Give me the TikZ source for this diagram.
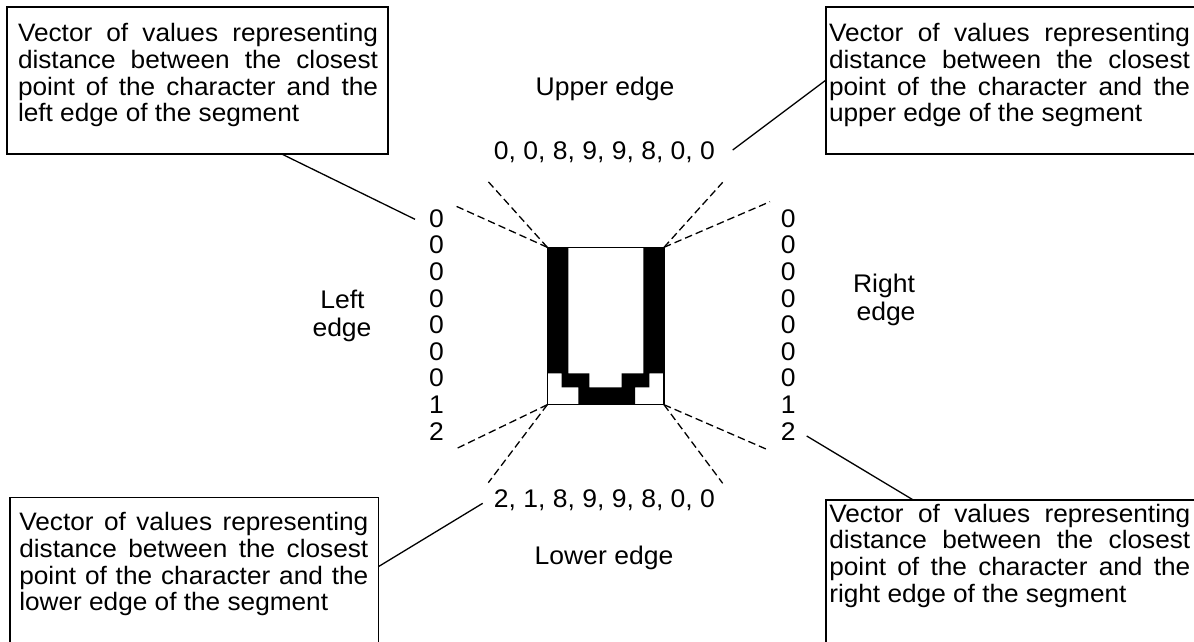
\documentclass[tikz,border=0pt]{standalone}
\usepackage{fontspec}
\setmainfont{Liberation Sans}[FakeStretch=1.04]
\usetikzlibrary{calc}
\tolerance=9999
\hyphenpenalty=10000
\exhyphenpenalty=10000
\begin{document}
\begin{tikzpicture}[x=1pt,y=-1pt,
  every node/.style={inner sep=0pt, outer sep=0pt, font=\fontsize{25.5}{27.6}\selectfont},
  callout/.style={draw, line width=1.4pt, anchor=north west},
  note/.style={anchor=base west, align=justify, font=\fontsize{25.2}{26.67}\selectfont},
  lbl/.style={anchor=base},
  leader/.style={line width=1.3pt},
  guide/.style={line width=1.3pt, dash pattern=on 7.5pt off 4pt},
  ink/.style={fill=black}]

\useasboundingbox (0,0) rectangle (1194,641);
\clip (0,0) rectangle (1194,641);
\fill[white] (0,0) rectangle (1194,641);

% explanatory boxes (the outer ones run past the page edge)
\node[callout, minimum width=381, minimum height=147] (boxTL) at (7,7) {};
\node[callout, minimum width=374, minimum height=147] (boxTR) at (826,7) {};
\node[callout, minimum width=368.3, minimum height=163] (boxBL) at (10,497.3) {};
\node[callout, minimum width=374, minimum height=160] (boxBR) at (826,500) {};

\node[note, text width=360] (txtTL) at (18,41.7) {Vector of values representing distance between the closest point of the character and the left edge of the segment};
\node[note, text width=361] (txtTR) at (829,41.7) {Vector of values representing distance between the closest point of the character and the upper edge of the segment};
\node[note, text width=349] (txtBL) at (19.3,530.7) {Vector of values representing distance between the closest point of the character and the lower edge of the segment};
\node[note, text width=361] (txtBR) at (829.3,522) {Vector of values representing distance between the closest point of the character and the right edge of the segment};

% the character bitmap (letter U)
\fill[ink] (547.3,247.3) -- (568.3,247.3) -- (568.3,373.3) -- (589.3,373.3)
  -- (589.3,387.3) -- (621.7,387.3) -- (621.7,373.3) -- (643.3,373.3)
  -- (643.3,247.3) -- (664,247.3) -- (664,373.3) -- (649.3,373.3)
  -- (649.3,387.3) -- (635,387.3) -- (635,404.7) -- (578.3,404.7)
  -- (578.3,387.3) -- (561.7,387.3) -- (561.7,373.3) -- (547.3,373.3) -- cycle;
\node[draw, line width=1.3pt, minimum width=116.7, minimum height=157.4] (glyph) at (605.65,326) {};

% edge labels and value vectors
\node[lbl] (upper) at (605,95) {Upper edge};
\node[lbl] (topvec) at (604.4,159) {0, 0, 8, 9, 9, 8, 0, 0};
\node[lbl] (botvec) at (604.4,507.3) {2, 1, 8, 9, 9, 8, 0, 0};
\node[lbl] (lower) at (604,564) {Lower edge};
\node[lbl] (leftA) at (342.5,308.3) {Left};
\node[lbl] (leftB) at (342,336) {edge};
\node[lbl] (rightA) at (884,292) {Right};
\node[lbl] (rightB) at (886,320) {edge};

\foreach \d [count=\i] in {0,0,0,0,0,0,0,1,2} {
  \node[lbl] (l\i) at (436.5,{227.3+26.6*(\i-1)}) {\d};
  \node[lbl] (r\i) at (788.3,{227.3+26.6*(\i-1)}) {\d};
}

% dashed projection lines from the corners of the bitmap
\coordinate (gTLa) at (455,205.7);
\coordinate (gTLb) at (488.3,181.7);
\coordinate (gTRa) at (722.7,182.3);
\coordinate (gTRb) at (770,201.7);
\coordinate (gBLa) at (455,449.3);
\coordinate (gBLb) at (488.3,482.7);
\coordinate (gBRa) at (722.7,483.3);
\coordinate (gBRb) at (766.7,449.3);
\draw[guide] (glyph.north west) -- (gTLa);
\draw[guide] (glyph.north west) -- (gTLb);
\draw[guide] (glyph.north east) -- (gTRa);
\draw[guide] (glyph.north east) -- (gTRb);
\draw[guide] (glyph.south west) -- (gBLa);
\draw[guide] (glyph.south west) -- (gBLb);
\draw[guide] (glyph.south east) -- (gBRa);
\draw[guide] (glyph.south east) -- (gBRb);

% leader lines from the boxes
\coordinate (tipTL) at (415,219.3);
\coordinate (tipTR) at (732.7,150);
\coordinate (tipBL) at (482.7,503.3);
\coordinate (tipBR) at (806.7,436);
\draw[leader] ($(boxTL.south west)+(274.7,0)$) -- (tipTL);
\draw[leader] (tipTR) -- ($(boxTR.north west)+(0,73)$);
\draw[leader] (tipBL) -- ($(boxBL.north east)+(0,69.4)$);
\draw[leader] (tipBR) -- ($(boxBR.north west)+(87.3,0)$);
\end{tikzpicture}
\end{document}
